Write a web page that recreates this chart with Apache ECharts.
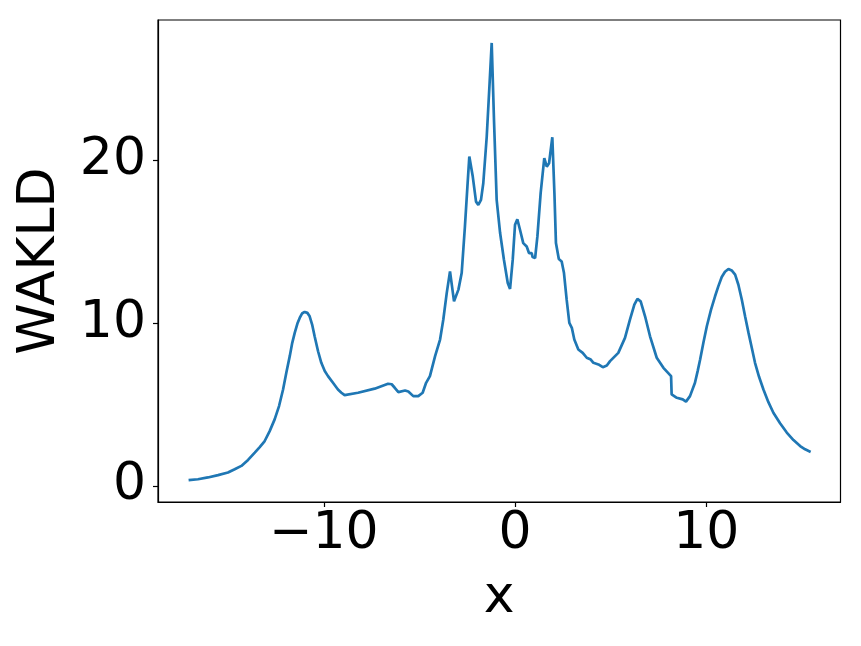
<!DOCTYPE html>
<html>
<head>
<meta charset="utf-8">
<script src="https://cdn.jsdelivr.net/npm/echarts@6/dist/echarts.min.js"></script>
<style>html,body{margin:0;padding:0;background:#fff}#c{width:861px;height:646px}</style>
</head>
<body>
<div id="c"></div>
<script>
const xs = [-17.07,-16.58,-16.06,-15.53,-15.01,-14.66,-14.31,-13.96,-13.61,-13.35,-13.09,-12.83,-12.57,-12.34,-12.13,-11.96,-11.78,-11.65,-11.52,-11.38,-11.26,-11.14,-11.0,-10.86,-10.74,-10.61,-10.48,-10.30,-10.13,-9.95,-9.78,-9.52,-9.26,-9.08,-8.91,-8.21,-7.34,-6.64,-6.45,-6.3,-6.10,-5.75,-5.58,-5.32,-5.06,-4.83,-4.65,-4.45,-4.18,-3.92,-3.75,-3.57,-3.40,-3.19,-2.96,-2.79,-2.62,-2.49,-2.39,-2.21,-2.04,-1.92,-1.78,-1.66,-1.48,-1.34,-1.22,-1.10,-0.96,-0.78,-0.58,-0.38,-0.26,-0.12,0.0,0.12,0.26,0.43,0.61,0.73,0.87,0.92,1.05,1.17,1.34,1.53,1.66,1.78,1.95,2.06,2.14,2.29,2.44,2.56,2.70,2.84,2.97,3.10,3.31,3.54,3.75,3.96,4.10,4.36,4.59,4.80,4.97,5.40,5.75,6.01,6.24,6.40,6.57,6.80,7.06,7.41,7.76,8.16,8.19,8.46,8.77,8.94,9.15,9.41,9.55,9.68,9.85,10.03,10.25,10.46,10.63,10.81,10.98,11.16,11.33,11.51,11.68,11.86,12.03,12.21,12.38,12.55,12.76,12.99,13.25,13.51,13.86,14.21,14.56,14.91,15.17,15.46];
const ys = [0.35,0.41,0.52,0.66,0.82,1.02,1.23,1.6,2.05,2.39,2.76,3.37,4.09,4.91,5.93,6.96,7.98,8.8,9.41,9.98,10.33,10.6,10.7,10.64,10.43,9.92,9.2,8.28,7.57,7.06,6.75,6.34,5.93,5.73,5.58,5.73,5.98,6.28,6.25,6.05,5.77,5.87,5.81,5.52,5.52,5.73,6.34,6.75,7.98,9.0,10.23,11.87,13.19,11.35,12.07,13.09,15.95,18.4,20.25,19.02,17.48,17.28,17.59,18.61,21.47,24.54,27.24,22.5,17.59,15.55,13.91,12.48,12.11,13.91,16.06,16.4,15.75,14.93,14.72,14.32,14.32,14.07,14.01,15.34,18.0,20.15,19.63,19.84,21.44,18.0,14.93,13.95,13.8,13.09,11.45,10.02,9.72,9.0,8.39,8.18,7.88,7.77,7.57,7.47,7.30,7.40,7.67,8.18,9.10,10.23,11.15,11.5,11.35,10.43,9.2,7.88,7.26,6.75,5.63,5.42,5.32,5.18,5.52,6.34,7.06,7.77,8.8,9.82,10.84,11.66,12.27,12.85,13.17,13.34,13.25,12.99,12.37,11.45,10.43,9.41,8.49,7.57,6.71,5.93,5.15,4.50,3.85,3.28,2.82,2.45,2.25,2.09];
const xTicks = [-10, 0, 10];
const yTicks = [0, 10, 20];
const xName = 'x';
const yName = 'WAKLD';

const FONT = 'DejaVu Sans';
const FS = 52;
const chart = echarts.init(document.getElementById('c'), null, {renderer: 'canvas'});
chart.setOption({
  animation: false,
  backgroundColor: '#ffffff',
  grid: {left: 158, right: 20.5, top: 20, bottom: 144, show: true, borderColor: '#000', borderWidth: 1.2, backgroundColor: 'transparent'},
  xAxis: {
    type: 'value', min: -18.67, max: 17.02,
    name: xName, nameLocation: 'middle', nameGap: 70,
    nameTextStyle: {fontFamily: FONT, fontSize: FS, color: '#000'},
    axisLine: {show: true, onZero: false, lineStyle: {color: '#000', width: 1.2}},
    splitLine: {show: false},
    axisTick: {show: true, length: 5, lineStyle: {color: '#000', width: 1.2}, customValues: xTicks},
    axisLabel: {fontFamily: FONT, fontSize: FS, color: '#000', margin: 6,
      customValues: xTicks, formatter: v => (v < 0 ? '\u2212' + Math.abs(v) : String(v))}
  },
  yAxis: {
    type: 'value', min: -0.99, max: 28.65,
    name: yName, nameLocation: 'middle', nameGap: 92, nameRotate: 90,
    nameTextStyle: {fontFamily: FONT, fontSize: FS, color: '#000'},
    axisLine: {show: true, onZero: false, lineStyle: {color: '#000', width: 1.2}},
    splitLine: {show: false},
    axisTick: {show: true, length: 5, lineStyle: {color: '#000', width: 1.2}, customValues: yTicks},
    axisLabel: {fontFamily: FONT, fontSize: FS, color: '#000', margin: 12, customValues: yTicks}
  },
  series: [{
    type: 'line',
    data: xs.map((x, i) => [x, ys[i]]),
    showSymbol: false,
    symbol: 'none',
    lineStyle: {color: '#1f77b4', width: 2.7},
    smooth: false
  }]
});
</script>
</body>
</html>
